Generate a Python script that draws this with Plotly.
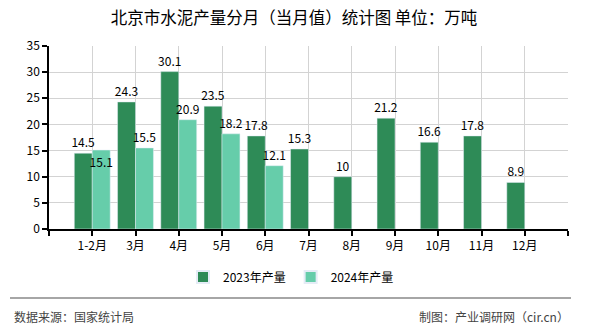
import plotly.graph_objects as go

categories = ["1-2月", "3月", "4月", "5月", "6月", "7月", "8月", "9月", "10月", "11月", "12月"]
vals_2023 = [14.5, 24.3, 30.1, 23.5, 17.8, 15.3, 10, 21.2, 16.6, 17.8, 8.9]
vals_2024 = [15.1, 15.5, 20.9, 18.2, 12.1]
name_2023 = "2023年产量"
name_2024 = "2024年产量"
title = "北京市水泥产量分月（当月值）统计图 单位：万吨"
source = "数据来源：国家统计局"
maker = "制图：产业调研网（cir.cn）"

FONT = "Noto Sans CJK SC, Noto Sans, sans-serif"
W, H = 590, 330
L, R, T, B = 49, 22, 46, 101
pw, ph = W - L - R, H - T - B

def px_x(x):
    return (x - L) / pw

def px_y(y):
    return (H - B - y) / ph

n = len(categories)
xs = list(range(n))

fig = go.Figure()
fig.add_trace(go.Bar(
    x=xs, y=vals_2023, name=name_2023, marker_color="#2e8b57",
    text=[str(v) for v in vals_2023], textposition="outside",
    textfont=dict(family=FONT, size=12, color="#000"),
    textangle=0, constraintext="none", cliponaxis=False,
))
pos24 = ["inside"] + ["outside"] * (len(vals_2024) - 1)
fig.add_trace(go.Bar(
    x=xs[:len(vals_2024)], y=vals_2024, name=name_2024, marker_color="#66cdaa",
    text=[str(v) for v in vals_2024], textposition=pos24,
    insidetextanchor="end",
    textfont=dict(family=FONT, size=12, color="#000"),
    insidetextfont=dict(family=FONT, size=12, color="#000"),
    outsidetextfont=dict(family=FONT, size=12, color="#000"),
    textangle=0, constraintext="none", cliponaxis=False,
))

fig.update_layout(
    width=W, height=H,
    margin=dict(l=L, r=R, t=T, b=B, pad=0),
    paper_bgcolor="white", plot_bgcolor="white",
    barmode="group", bargap=0.17, bargroupgap=0,
    font=dict(family=FONT, size=12, color="#000"),
    title=dict(text=title, x=294 / W, xanchor="center", y=1 - 18 / H, yanchor="middle",
               font=dict(family=FONT, size=16.5, color="#000")),
    legend=dict(orientation="h", x=px_x(291), xanchor="center", y=px_y(277), yanchor="middle",
                font=dict(family=FONT, size=12, color="#000"), itemsizing="constant",
                traceorder="normal"),
    showlegend=True,
)
fig.update_xaxes(
    range=[-1, n], tickmode="array",
    tickvals=list(range(-1, n + 1)), ticktext=[""] + categories + [""],
    showgrid=True, gridcolor="#d3d3d3", gridwidth=1,
    showline=True, linecolor="#000", linewidth=1.5,
    ticks="outside", ticklen=5, tickcolor="#000", tickwidth=1.5,
    zeroline=False, tickfont=dict(family=FONT, size=12, color="#000"),
)
fig.update_yaxes(
    range=[0, 35], dtick=5, tick0=0,
    showgrid=True, gridcolor="#d3d3d3", gridwidth=1,
    showline=True, linecolor="#000", linewidth=1.5,
    ticks="outside", ticklen=5, tickcolor="#000", tickwidth=1.5,
    zeroline=False, tickfont=dict(family=FONT, size=12, color="#000"),
)

fig.add_shape(type="line", xref="paper", yref="paper",
              x0=px_x(10), x1=px_x(571), y0=px_y(298), y1=px_y(298),
              line=dict(color="#888", width=1.5))
fig.add_annotation(text=source, xref="paper", yref="paper", x=px_x(12), y=px_y(316),
                   xanchor="left", yanchor="middle", showarrow=False,
                   font=dict(family=FONT, size=12, color="#444"))
fig.add_annotation(text=maker, xref="paper", yref="paper", x=px_x(571), y=px_y(316),
                   xanchor="right", yanchor="middle", showarrow=False,
                   font=dict(family=FONT, size=12, color="#444"))

fig.write_html("out.html")
